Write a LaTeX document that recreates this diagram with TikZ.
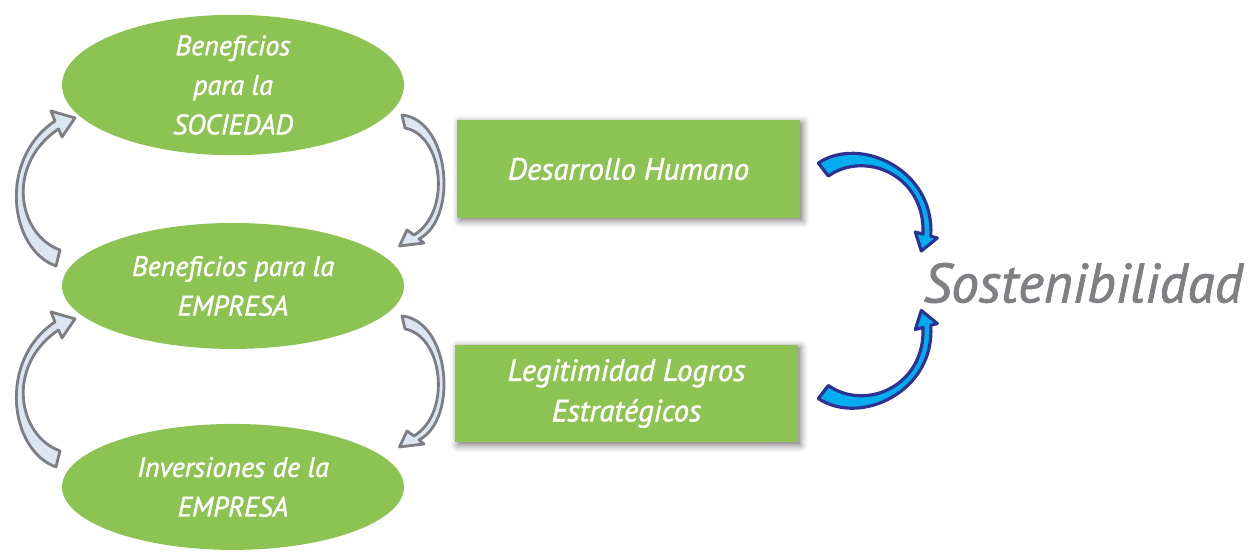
\documentclass[tikz,border=0pt]{standalone}
\usepackage{fontspec}
\setmainfont{PT Sans}[ItalicFeatures={FakeBold=1.4}]
\usetikzlibrary{shapes.geometric,positioning,shadows.blur}
\definecolor{leafgreen}{RGB}{141,195,82}
\definecolor{paleblue}{RGB}{220,230,242}
\definecolor{rimgray}{RGB}{125,125,132}
\definecolor{skyblue}{RGB}{0,174,239}
\definecolor{navy}{RGB}{46,49,146}
\definecolor{titlegray}{RGB}{128,128,132}

\begin{document}
\begin{tikzpicture}[x=0.02cm, y=-0.02cm, node distance={4.02cm},
  oval/.style = {ellipse, fill=leafgreen, minimum width=6.84cm, minimum height=2.52cm, inner sep=0pt, text=white, align=center, font=\fontsize{16}{22.5}\selectfont\itshape},
  box/.style = {rectangle, fill=leafgreen, minimum width=6.86cm, minimum height=1.96cm, text=white, align=center, font=\fontsize{17.5}{23}\selectfont\itshape, blur shadow={shadow xshift=1.5pt, shadow yshift=-1.5pt, shadow blur radius=4pt, shadow opacity=55}},
  title/.style = {text=titlegray, font=\fontsize{31.5}{36}\selectfont\itshape},
  grayleft/.pic = {
    \filldraw[fill=paleblue, draw=rimgray, line width=1.6pt, line join=round]
    (2,-8) .. controls (-40,-23) and (-53,-93) .. (0.5,-129) -- (4,-121) -- (17,-140) -- (-7,-147) -- (-3,-137) .. controls (-61,-98) and (-48,-8) .. (-2,8) -- cycle;
  },
  grayright/.pic = {
    \filldraw[fill=paleblue, draw=rimgray, line width=1.6pt, line join=round]
    (-1.5,-6.5) .. controls (46.5,-1.5) and (55,97) .. (15.5,117.5) -- (20.5,121.5) -- (-4,124.5) -- (3.5,108.5) -- (10.5,113.5) .. controls (48.5,90.5) and (39.5,13.5) .. (1.5,6.5) -- cycle;
  },
  bluearc/.pic = {
    \filldraw[fill=skyblue, draw=navy, line width=1.8pt, line join=round]
    (-5,-6.5) .. controls (37,-34.5) and (112,0.5) .. (107.4,66.7) -- (114,68.5) -- (98,81.5) -- (92,62.5) -- (99.7,64.6) .. controls (102,5.5) and (42,-19.5) .. (5,6.5) -- cycle;
  }]
\useasboundingbox (0,0) rectangle (1255,552);

\node[oval] (e1) at (233,85) {Beneficios\\para la\\SOCIEDAD};
\node[oval] (e2) [below of=e1] {Beneficios para la\\EMPRESA};
\node[oval] (e3) [below of=e2] {Inversiones de la\\EMPRESA};

\node[box] (r1) at (628.5,169) {Desarrollo Humano};
\node[box] (r2) at (626.5,393.5) {Legitimidad Logros\\Estratégicos};

\node[title] (sos) at (1083,283) {Sostenibilidad};

% gray loops between the ovals
\coordinate (up1) at ([shift={(-175,-28)}]e2.center);
\coordinate (up2) at ([shift={(-175,-28)}]e3.center);
\coordinate (dn1) at ([shift={(170.5,36.5)}]e1.center);
\coordinate (dn2) at ([shift={(170.5,36.5)}]e2.center);
\pic at (up1) {grayleft};
\pic at (up2) {grayleft};
\pic at (dn1) {grayright};
\pic at (dn2) {grayright};

% blue arcs into Sostenibilidad
\coordinate (b1) at ([shift={(23,0.5)}]r1.east);
\coordinate (b2) at ([shift={(25,-1.5)}]r2.east);
\pic at (b1) {bluearc};
\pic[yscale=-1] at (b2) {bluearc};
\end{tikzpicture}
\end{document}
